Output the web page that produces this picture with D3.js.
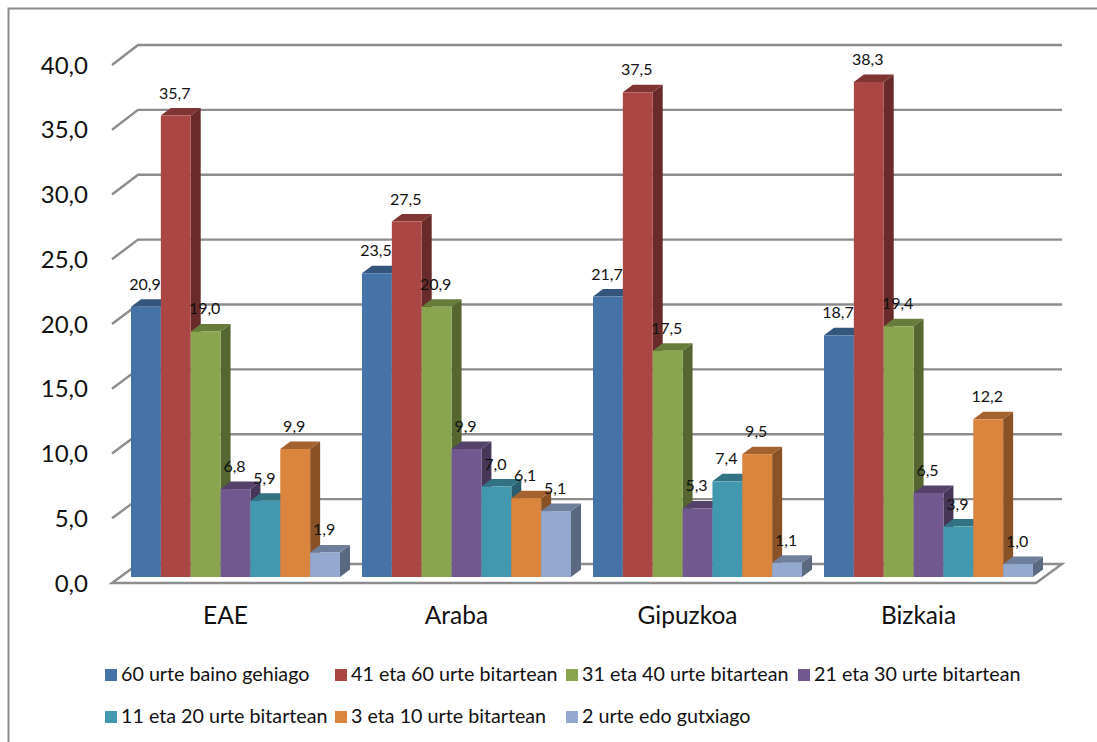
<!DOCTYPE html>
<html><head><meta charset="utf-8">
<script src="https://cdn.jsdelivr.net/npm/d3@7/dist/d3.min.js"></script>
<style>html,body{margin:0;background:#fff}svg{display:block;font-family:Lato,Carlito,sans-serif}</style>
</head><body><div id="c"></div>
<script>
const categories=["EAE","Araba","Gipuzkoa","Bizkaia"];
const seriesNames=["60 urte baino gehiago","41 eta 60 urte bitartean","31 eta 40 urte bitartean","21 eta 30 urte bitartean","11 eta 20 urte bitartean","3 eta 10 urte bitartean","2 urte edo gutxiago"];
const s60=[20.9,23.5,21.7,18.7];
const s41=[35.7,27.5,37.5,38.3];
const s31=[19.0,20.9,17.5,19.4];
const s21=[6.8,9.9,5.3,6.5];
const s11=[5.9,7.0,7.4,3.9];
const s3=[9.9,6.1,9.5,12.2];
const s2=[1.9,5.1,1.1,1.0];
const allSeries=[s60,s41,s31,s21,s11,s3,s2];
const colors=["#4572a7","#aa4643","#89a54e","#71588f","#4198af","#db843d","#93a9cf"];
const ticks=[0,5,10,15,20,25,30,35,40];

const W=1097,H=742,depthX=10,depthY=7.5;
const svg=d3.select("#c").append("svg").attr("width",W).attr("height",H);
const fmt=v=>v.toFixed(1).replace(".",",");
const mul=(c,k)=>{const r=d3.rgb(c);return d3.rgb(r.r*k,r.g*k,r.b*k).formatHex();};

// chart frame
svg.append("path").attr("d",`M8.5,${H}V8.5H${W}`).attr("fill","none").attr("stroke","#8c8c8c").attr("stroke-width",2);

const yFront=d3.scaleLinear().domain([0,40]).range([583,65]);
const yBack=d3.scaleLinear().domain([0,40]).range([564,45]);
const yBar=d3.scaleLinear().domain([0,40]).range([577,60]);
const xFront=d3.scaleBand().domain(categories).range([112,1036]);
const xSer=d3.scaleBand().domain(d3.range(7)).range([0,209]);
const groupOffset=19;

// walls and gridlines
const grid=svg.append("g").attr("fill","none").attr("stroke","#8c8c8c").attr("stroke-width",2.4);
ticks.forEach(t=>{
  const d=t===0?`M112,583L138,564H1062L1036,583Z`:`M112,${yFront(t)}L138,${yBack(t)}H1062`;
  grid.append("path").attr("d",d);
});

// value axis
const ax=svg.append("g").attr("transform","translate(88,0.5)")
  .call(d3.axisLeft(yFront).tickValues(ticks).tickFormat(fmt).tickSize(0).tickPadding(0));
ax.select(".domain").remove();
ax.selectAll("text").attr("font-size",24).attr("font-family","Lato,Carlito,sans-serif").attr("fill","#111");

// category axis
const cx=svg.append("g").attr("transform","translate(0,607)")
  .call(d3.axisBottom(xFront).tickSize(0).tickPadding(0));
cx.select(".domain").remove();
cx.selectAll("text").attr("font-size",24.5).attr("font-family","Lato,Carlito,sans-serif").attr("fill","#111").attr("dy","0.71em")
  .attr("transform","translate(-2,0)");

// bars
categories.forEach((cat,ci)=>{
  const g=svg.append("g").attr("transform",`translate(${xFront(cat)+groupOffset},0)`);
  allSeries.forEach((vals,si)=>{
    const x0=xSer(si),x1=x0+xSer.bandwidth(),top=yBar(vals[ci]),base=yBar(0),c=colors[si];
    g.append("path").attr("fill",mul(c,0.62))
      .attr("d",`M${x1},${top}L${x1+depthX},${top-depthY}V${base-depthY}L${x1},${base}Z`);
    g.append("path").attr("fill",mul(c,0.75))
      .attr("d",`M${x0},${top}L${x0+depthX},${top-depthY}H${x1+depthX}L${x1},${top}Z`);
    g.append("rect").attr("x",x0).attr("y",top).attr("width",xSer.bandwidth()).attr("height",base-top).attr("fill",c);
  });
});
// data labels
categories.forEach((cat,ci)=>{
  const g=svg.append("g").attr("transform",`translate(${xFront(cat)+groupOffset},0)`);
  allSeries.forEach((vals,si)=>{
    g.append("text").attr("x",xSer(si)+xSer.bandwidth()/2-1).attr("y",yBar(vals[ci])-17)
      .attr("text-anchor","middle").attr("font-size",16).attr("fill","#111").text(fmt(vals[ci]));
  });
});

// legend
const legendX=[105,335,566,798,105,335,566];
const legendY=[669,669,669,669,711,711,711];
seriesNames.forEach((n,i)=>{
  svg.append("rect").attr("x",legendX[i]).attr("y",legendY[i]).attr("width",12).attr("height",12).attr("fill",colors[i]);
  svg.append("text").attr("x",legendX[i]+16).attr("y",legendY[i]+12).attr("font-size",19.7).attr("fill","#111").text(n);
});
</script></body></html>
